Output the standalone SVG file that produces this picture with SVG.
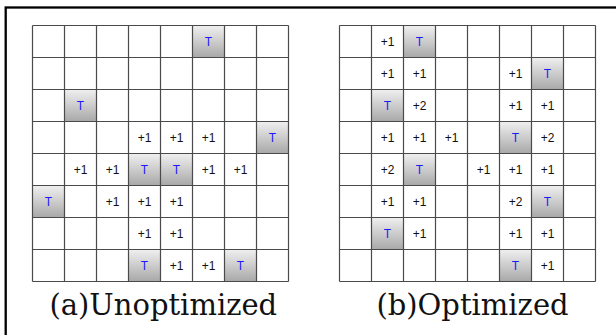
<svg xmlns="http://www.w3.org/2000/svg" width="616" height="335" viewBox="0 0 616 335">
<defs>
<linearGradient id="tg" x1="0" y1="0" x2="0" y2="1">
<stop offset="0" stop-color="#f0f0f0"/>
<stop offset="1" stop-color="#a8a8a8"/>
</linearGradient>
<style>
.t{fill:url(#tg);}
.tl{font-family:"Liberation Sans",Arial,sans-serif;font-size:12px;fill:#1a1aff;text-anchor:middle;}
.n{font-family:"Liberation Sans",Arial,sans-serif;font-size:12px;fill:#111;text-anchor:middle;}
.grid{fill:none;stroke:#4a4a4a;stroke-width:1.2;}
.cap{font-family:"DejaVu Serif","Liberation Serif",serif;font-size:29px;fill:#111;text-anchor:middle;}
</style>
</defs>
<rect x="0" y="0" width="616" height="335" fill="#fff"/>
<rect x="5.7" y="7.5" width="700" height="400" fill="none" stroke="#000" stroke-width="2.3"/>

<g id="panel-a">
<g id="a-targets">
<rect class="t" x="192.5" y="25.5" width="32" height="32"/>
<rect class="t" x="64.5" y="89.5" width="32" height="32"/>
<rect class="t" x="256.5" y="121.5" width="32" height="32"/>
<rect class="t" x="128.5" y="153.5" width="32" height="32"/>
<rect class="t" x="160.5" y="153.5" width="32" height="32"/>
<rect class="t" x="32.5" y="185.5" width="32" height="32"/>
<rect class="t" x="128.5" y="249.5" width="32" height="32"/>
<rect class="t" x="224.5" y="249.5" width="32" height="32"/>
</g>
<path class="grid" d="M32.5,25.5V281.5M64.5,25.5V281.5M96.5,25.5V281.5M128.5,25.5V281.5M160.5,25.5V281.5M192.5,25.5V281.5M224.5,25.5V281.5M256.5,25.5V281.5M288.5,25.5V281.5M32.5,25.5H288.5M32.5,57.5H288.5M32.5,89.5H288.5M32.5,121.5H288.5M32.5,153.5H288.5M32.5,185.5H288.5M32.5,217.5H288.5M32.5,249.5H288.5M32.5,281.5H288.5"/>
<g id="a-labels">
<text class="tl" x="208.5" y="46">T</text>
<text class="tl" x="80.5" y="110">T</text>
<text class="tl" x="272.5" y="142">T</text>
<text class="tl" x="144.5" y="174">T</text>
<text class="tl" x="176.5" y="174">T</text>
<text class="tl" x="48.5" y="206">T</text>
<text class="tl" x="144.5" y="270">T</text>
<text class="tl" x="240.5" y="270">T</text>
<text class="n" x="144.5" y="142">+1</text>
<text class="n" x="176.5" y="142">+1</text>
<text class="n" x="208.5" y="142">+1</text>
<text class="n" x="80.5" y="174">+1</text>
<text class="n" x="112.5" y="174">+1</text>
<text class="n" x="208.5" y="174">+1</text>
<text class="n" x="240.5" y="174">+1</text>
<text class="n" x="112.5" y="206">+1</text>
<text class="n" x="144.5" y="206">+1</text>
<text class="n" x="176.5" y="206">+1</text>
<text class="n" x="144.5" y="238">+1</text>
<text class="n" x="176.5" y="238">+1</text>
<text class="n" x="176.5" y="270">+1</text>
<text class="n" x="208.5" y="270">+1</text>
</g>
<text id="a-caption" class="cap" x="163.3" y="315">(a)Unoptimized</text>
</g>

<g id="panel-b">
<g id="b-targets">
<rect class="t" x="403.5" y="25.5" width="32" height="32"/>
<rect class="t" x="531.5" y="57.5" width="32" height="32"/>
<rect class="t" x="371.5" y="89.5" width="32" height="32"/>
<rect class="t" x="499.5" y="121.5" width="32" height="32"/>
<rect class="t" x="403.5" y="153.5" width="32" height="32"/>
<rect class="t" x="531.5" y="185.5" width="32" height="32"/>
<rect class="t" x="371.5" y="217.5" width="32" height="32"/>
<rect class="t" x="499.5" y="249.5" width="32" height="32"/>
</g>
<path class="grid" d="M339.5,25.5V281.5M371.5,25.5V281.5M403.5,25.5V281.5M435.5,25.5V281.5M467.5,25.5V281.5M499.5,25.5V281.5M531.5,25.5V281.5M563.5,25.5V281.5M595.5,25.5V281.5M339.5,25.5H595.5M339.5,57.5H595.5M339.5,89.5H595.5M339.5,121.5H595.5M339.5,153.5H595.5M339.5,185.5H595.5M339.5,217.5H595.5M339.5,249.5H595.5M339.5,281.5H595.5"/>
<g id="b-labels">
<text class="tl" x="419.5" y="46">T</text>
<text class="tl" x="547.5" y="78">T</text>
<text class="tl" x="387.5" y="110">T</text>
<text class="tl" x="515.5" y="142">T</text>
<text class="tl" x="419.5" y="174">T</text>
<text class="tl" x="547.5" y="206">T</text>
<text class="tl" x="387.5" y="238">T</text>
<text class="tl" x="515.5" y="270">T</text>
<text class="n" x="387.5" y="46">+1</text>
<text class="n" x="387.5" y="78">+1</text>
<text class="n" x="419.5" y="78">+1</text>
<text class="n" x="515.5" y="78">+1</text>
<text class="n" x="419.5" y="110">+2</text>
<text class="n" x="515.5" y="110">+1</text>
<text class="n" x="547.5" y="110">+1</text>
<text class="n" x="387.5" y="142">+1</text>
<text class="n" x="419.5" y="142">+1</text>
<text class="n" x="451.5" y="142">+1</text>
<text class="n" x="547.5" y="142">+2</text>
<text class="n" x="387.5" y="174">+2</text>
<text class="n" x="483.5" y="174">+1</text>
<text class="n" x="515.5" y="174">+1</text>
<text class="n" x="547.5" y="174">+1</text>
<text class="n" x="387.5" y="206">+1</text>
<text class="n" x="419.5" y="206">+1</text>
<text class="n" x="515.5" y="206">+2</text>
<text class="n" x="419.5" y="238">+1</text>
<text class="n" x="515.5" y="238">+1</text>
<text class="n" x="547.5" y="238">+1</text>
<text class="n" x="547.5" y="270">+1</text>
</g>
<text id="b-caption" class="cap" x="472.5" y="315">(b)Optimized</text>
</g>
</svg>
